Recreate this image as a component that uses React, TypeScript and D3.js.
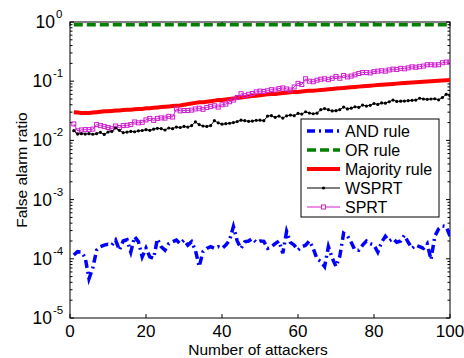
import React from "react";
import * as d3 from "d3";

const xTicks = [0, 20, 40, 60, 80, 100];
const yTickExps = [0, -1, -2, -3, -4, -5];

const andRule = [
  1.16e-4, 1.32e-4, 1.3e-4, 1.05e-4, 4.6e-5, 7e-5, 1.4e-4, 1.6e-4, 1.7e-4, 1.76e-4,
  1.7e-4, 2.07e-4, 1.4e-4, 2.0e-4, 2.1e-4, 1.3e-4, 2.36e-4, 1.95e-4, 1.08e-4, 1.52e-4,
  1.08e-4, 1.02e-4, 2.16e-4, 1.6e-4, 1.4e-4, 1.8e-4, 1.94e-4, 2.07e-4, 1.8e-4, 2.07e-4,
  1.7e-4, 1.94e-4, 1.4e-4, 7.4e-5, 1.32e-4, 1.5e-4, 1.6e-4, 1.5e-4, 1.6e-4, 1.5e-4,
  1.7e-4, 2.07e-4, 3.5e-4, 2.0e-4, 1.5e-4, 1.94e-4, 2.0e-4, 2.2e-4, 1.9e-4, 2.0e-4,
  1.97e-4, 1.5e-4, 1.6e-4, 1.8e-4, 2.0e-4, 1.24e-4, 2.9e-4, 1.9e-4, 1.7e-4, 1.4e-4,
  1.6e-4, 1.7e-4, 2.0e-4, 1.5e-4, 1.0e-4, 9e-5, 7.4e-5, 1.6e-4, 1.03e-4, 7.4e-5,
  1.1e-4, 2.7e-4, 2.45e-4, 1.9e-4, 1.4e-4, 1.4e-4, 1.7e-4, 2.0e-4, 1.8e-4, 1.7e-4,
  1.3e-4, 1.9e-4, 2.4e-4, 2.0e-4, 2.2e-4, 1.9e-4, 2.0e-4, 2.5e-4, 1.9e-4, 1.5e-4,
  1.7e-4, 1.6e-4, 1.5e-4, 1.8e-4, 9.7e-5, 2.4e-4, 3.2e-4, 3.6e-4, 3.5e-4, 2.4e-4,
];

const orRule = [
  0.9, 0.9, 0.9, 0.9, 0.9, 0.9, 0.9, 0.9, 0.9, 0.9,
  0.9, 0.9, 0.9, 0.9, 0.9, 0.9, 0.9, 0.9, 0.9, 0.9,
  0.9, 0.9, 0.9, 0.9, 0.9, 0.9, 0.9, 0.9, 0.9, 0.9,
  0.9, 0.9, 0.9, 0.9, 0.9, 0.9, 0.9, 0.9, 0.9, 0.9,
  0.9, 0.9, 0.9, 0.9, 0.9, 0.9, 0.9, 0.9, 0.9, 0.9,
  0.9, 0.9, 0.9, 0.9, 0.9, 0.9, 0.9, 0.9, 0.9, 0.9,
  0.9, 0.9, 0.9, 0.9, 0.9, 0.9, 0.9, 0.9, 0.9, 0.9,
  0.9, 0.9, 0.9, 0.9, 0.9, 0.9, 0.9, 0.9, 0.9, 0.9,
  0.9, 0.9, 0.9, 0.9, 0.9, 0.9, 0.9, 0.9, 0.9, 0.9,
  0.9, 0.9, 0.9, 0.9, 0.9, 0.9, 0.9, 0.9, 0.9, 0.9,
];

const majorityRule = [
  0.030, 0.0295, 0.029, 0.029, 0.029, 0.0295, 0.030, 0.0305, 0.031, 0.031,
  0.0315, 0.032, 0.032, 0.0325, 0.033, 0.033, 0.0335, 0.034, 0.034, 0.035,
  0.035, 0.0355, 0.036, 0.0365, 0.037, 0.0375, 0.038, 0.0385, 0.039, 0.040,
  0.041, 0.042, 0.043, 0.044, 0.044, 0.045, 0.046, 0.047, 0.048, 0.048,
  0.049, 0.050, 0.051, 0.052, 0.053, 0.054, 0.055, 0.056, 0.057, 0.058,
  0.059, 0.060, 0.061, 0.061, 0.062, 0.063, 0.064, 0.065, 0.066, 0.066,
  0.067, 0.068, 0.069, 0.069, 0.070, 0.071, 0.072, 0.073, 0.074, 0.075,
  0.076, 0.077, 0.078, 0.079, 0.080, 0.081, 0.082, 0.083, 0.084, 0.085,
  0.086, 0.087, 0.088, 0.089, 0.090, 0.091, 0.092, 0.093, 0.094, 0.095,
  0.096, 0.097, 0.098, 0.099, 0.100, 0.101, 0.102, 0.103, 0.104, 0.105,
];

const wsprt = [
  0.0146, 0.0128, 0.013, 0.0128, 0.013, 0.0127, 0.013, 0.0137, 0.0126, 0.0138,
  0.0142, 0.0162, 0.0148, 0.0135, 0.0138, 0.0142, 0.014, 0.0145, 0.0147, 0.0152,
  0.0148, 0.0155, 0.016, 0.0158, 0.015, 0.0162, 0.0158, 0.0168, 0.0165, 0.0172,
  0.0168, 0.0178, 0.0205, 0.0185, 0.0175, 0.0172, 0.0178, 0.0215, 0.0198, 0.0188,
  0.0192, 0.0195, 0.02, 0.0208, 0.022, 0.0215, 0.021, 0.0212, 0.0218, 0.022,
  0.0215, 0.0258, 0.0262, 0.0245, 0.0258, 0.0238, 0.026, 0.0268, 0.0262, 0.0285,
  0.0278, 0.0305, 0.029, 0.0282, 0.0288, 0.033, 0.0345, 0.033, 0.0315, 0.0318,
  0.033, 0.0365, 0.034, 0.035, 0.037, 0.0362, 0.0395, 0.038, 0.0392, 0.042,
  0.0405, 0.043, 0.0425, 0.045, 0.048, 0.0455, 0.046, 0.0462, 0.0468, 0.0475,
  0.048, 0.0515, 0.05, 0.0495, 0.05, 0.0505, 0.0485, 0.053, 0.06, 0.057,
];

const sprt = [
  0.019, 0.0145, 0.015, 0.0152, 0.0152, 0.0155, 0.0185, 0.0178, 0.0172, 0.0165,
  0.0158, 0.0175, 0.0165, 0.0178, 0.018, 0.0185, 0.0205, 0.0198, 0.0202, 0.0222,
  0.0235, 0.0218, 0.0235, 0.024, 0.0238, 0.0255, 0.0248, 0.034, 0.0315, 0.032,
  0.032, 0.0325, 0.034, 0.035, 0.0335, 0.036, 0.0375, 0.0385, 0.0365, 0.04,
  0.041, 0.045, 0.048, 0.053, 0.0615, 0.057, 0.06, 0.062, 0.066, 0.068,
  0.067, 0.069, 0.072, 0.071, 0.075, 0.077, 0.074, 0.071, 0.08, 0.092,
  0.088, 0.11, 0.1, 0.098, 0.104, 0.108, 0.11, 0.106, 0.112, 0.12,
  0.112, 0.125, 0.118, 0.122, 0.128, 0.135, 0.14, 0.14, 0.138, 0.145,
  0.148, 0.15, 0.148, 0.155, 0.16, 0.158, 0.165, 0.162, 0.168, 0.175,
  0.172, 0.176, 0.18, 0.19, 0.19, 0.188, 0.19, 0.205, 0.21, 0.21,
];

const W = 464;
const H = 358;
const L = 70, R = 450, T = 22, B = 318;
const FONT = "Liberation Sans, Arial, sans-serif";

export default function App() {
  const x = d3.scaleLinear().domain([0, 100]).range([L, R]);
  const y = d3.scaleLog().domain([1e-5, 1]).range([B, T]);
  const line = d3
    .line<number>()
    .x((_, i) => x(i + 1))
    .y((d) => y(d));

  const minorTicks: number[] = [];
  for (let e = -5; e < 0; e++) {
    for (let k = 2; k <= 9; k++) minorTicks.push(k * Math.pow(10, e));
  }

  const magenta = "#d020d0";

  const legendItems = [
    { label: "AND rule", color: "#0000ff", width: 3.5, dash: "8,4,2,4", marker: "" },
    { label: "OR rule", color: "#008000", width: 3.5, dash: "9,4", marker: "" },
    { label: "Majority rule", color: "#ff0000", width: 4, dash: "", marker: "" },
    { label: "WSPRT", color: "#000000", width: 1, dash: "", marker: "dot" },
    { label: "SPRT", color: magenta, width: 1, dash: "", marker: "square" },
  ];
  const legendY = [131, 150, 169, 188, 207];

  return (
    <svg
      width={W}
      height={H}
      style={{ position: "absolute", left: 0, top: 0, background: "#fff" }}
      fontFamily={FONT}
    >
      <rect x={0} y={0} width={W} height={H} fill="#fff" />
      <defs>
        <clipPath id="plot">
          <rect x={L} y={T - 2} width={R - L} height={B - T + 4} />
        </clipPath>
      </defs>

      {/* axes box */}
      <rect x={L} y={T} width={R - L} height={B - T} fill="none" stroke="#000" strokeWidth={1} />

      {/* x ticks */}
      {xTicks.map((t) => (
        <g key={"xt" + t}>
          <line x1={x(t)} x2={x(t)} y1={B} y2={B - 4} stroke="#000" />
          <line x1={x(t)} x2={x(t)} y1={T} y2={T + 4} stroke="#000" />
          <text x={x(t)} y={337} textAnchor="middle" fontSize={17} fill="#000">
            {t}
          </text>
        </g>
      ))}

      {/* y major ticks */}
      {yTickExps.map((e) => {
        const yy = y(Math.pow(10, e));
        return (
          <g key={"yt" + e}>
            <line x1={L} x2={L + 4} y1={yy} y2={yy} stroke="#000" />
            <line x1={R} x2={R - 4} y1={yy} y2={yy} stroke="#000" />
            <text x={e < 0 ? 52 : 55} y={yy + 6} textAnchor="end" fontSize={17.5} fill="#000">
              10
            </text>
            <text x={e < 0 ? 53 : 56} y={yy - 4} textAnchor="start" fontSize={11.5} fill="#000">
              {e}
            </text>
          </g>
        );
      })}
      {minorTicks.map((m, i) => (
        <g key={"mt" + i}>
          <line x1={L} x2={L + 2.5} y1={y(m)} y2={y(m)} stroke="#000" />
          <line x1={R} x2={R - 2.5} y1={y(m)} y2={y(m)} stroke="#000" />
        </g>
      ))}

      <g clipPath="url(#plot)">
        <path d={line(orRule) || ""} fill="none" stroke="#008000" strokeWidth={3.5} strokeDasharray="9,4" />
        <path d={line(majorityRule) || ""} fill="none" stroke="#ff0000" strokeWidth={4} />
        <path d={line(sprt) || ""} fill="none" stroke={magenta} strokeWidth={1} />
        {sprt.map((v, i) => (
          <rect
            key={"sq" + i}
            x={x(i + 1) - 2}
            y={y(v) - 2}
            width={4}
            height={4}
            fill="none"
            stroke={magenta}
            strokeWidth={1}
          />
        ))}
        <path d={line(wsprt) || ""} fill="none" stroke="#000" strokeWidth={1} />
        {wsprt.map((v, i) => (
          <circle key={"dt" + i} cx={x(i + 1)} cy={y(v)} r={1.6} fill="#000" />
        ))}
        <path
          d={line(andRule) || ""}
          fill="none"
          stroke="#0000ff"
          strokeWidth={3.5}
          strokeDasharray="8,4,2,4"
        />
      </g>

      {/* legend */}
      <rect x={301} y={119} width={138} height={98} fill="#fff" stroke="#000" strokeWidth={1} />
      {legendItems.map((it, i) => (
        <g key={"lg" + i}>
          <line
            x1={307}
            x2={340}
            y1={legendY[i]}
            y2={legendY[i]}
            stroke={it.color}
            strokeWidth={it.width}
            strokeDasharray={it.dash || undefined}
          />
          {it.marker === "dot" && <circle cx={323.5} cy={legendY[i]} r={1.6} fill="#000" />}
          {it.marker === "square" && (
            <rect x={321.5} y={legendY[i] - 2} width={4} height={4} fill="#fff" stroke={magenta} />
          )}
          <text x={345} y={legendY[i] + 6} fontSize={16} fill="#000">
            {it.label}
          </text>
        </g>
      ))}

      {/* axis labels */}
      <text x={258} y={355} textAnchor="middle" fontSize={15.5} fill="#000">
        Number of attackers
      </text>
      <text
        transform={`translate(27, ${(T + B) / 2}) rotate(-90)`}
        textAnchor="middle"
        fontSize={15.5}
        fill="#000"
      >
        False alarm ratio
      </text>
    </svg>
  );
}
